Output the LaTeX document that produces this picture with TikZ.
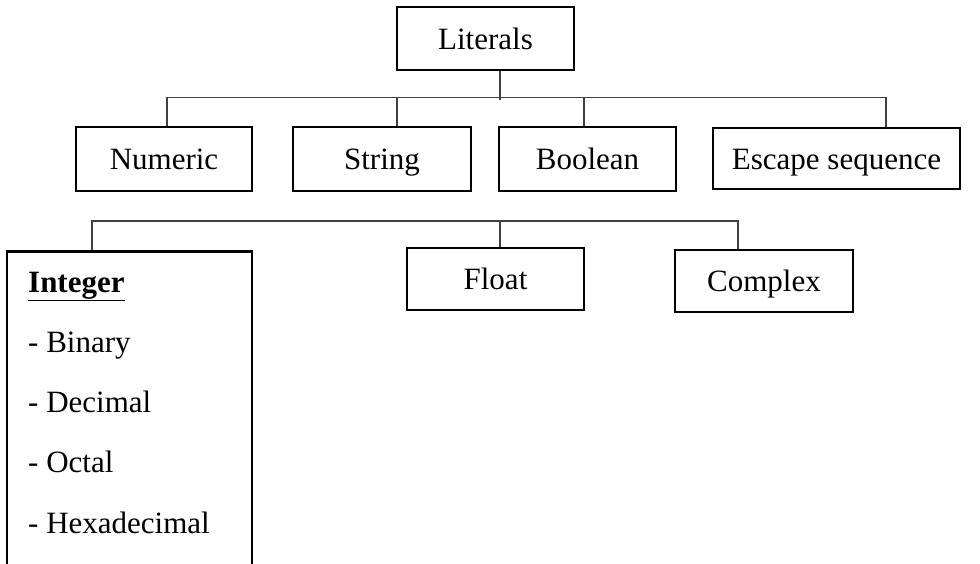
\documentclass[tikz,border=0pt]{standalone}
\usepackage{fontspec}
\setmainfont{Liberation Serif}
\begin{document}
\begin{tikzpicture}[x=1pt,y=-1pt,
  box/.style={draw=black,line width=2.8pt,fill=white,inner sep=0pt,
    text height=24pt,text depth=3pt,
    font=\fontsize{31}{37}\selectfont},
  conn/.style={draw=black!75,line width=1.7pt},
  itemtext/.style={anchor=base west,inner sep=0pt,font=\fontsize{31}{37}\selectfont}]
  \clip (0,0) rectangle (980,563);
  \fill[white] (0,0) rectangle (980,563);

  % first level
  \node[box,minimum width=177pt,minimum height=63pt] (lit) at (485.5,38.5) {Literals};
  \node[box,minimum width=176pt,minimum height=64pt] (num) at (164,159) {Numeric};
  \node[box,minimum width=178pt,minimum height=64pt] (str) at (382,159) {String};
  \node[box,minimum width=177pt,minimum height=64pt] (bool) at (587.5,159) {Boolean};
  \node[box,minimum width=247pt,minimum height=61pt] (esc) at (836.5,158.5) {Escape sequence};

  % second level
  \node[box,minimum width=245pt,minimum height=340pt,anchor=north] (int) at (129.5,250) {};
  \node[box,minimum width=177pt,minimum height=62pt] (flt) at (495.5,279) {Float};
  \node[box,minimum width=178pt,minimum height=62pt] (cpx) at (764,281) {Complex};

  % contents of the integer box
  \node[itemtext] (ihead) at (28,292) {\textbf{\underline{Integer}}};
  \node[itemtext] (ibin) at (28,352) {- Binary};
  \node[itemtext] (idec) at (28,412) {- Decimal};
  \node[itemtext] (ioct) at (28,472) {- Octal};
  \node[itemtext] (ihex) at (28,533) {- Hexadecimal};

  % connectors, first level
  \draw[conn] ([xshift=14.5]lit.south) -- ++(0,29);
  \draw[conn] ([xshift=3]num.north) -- ++(0,-28) -| ([xshift=49.5]esc.north);
  \draw[conn] ([xshift=15]str.north) -- ++(0,-28);
  \draw[conn] ([xshift=-3.5]bool.north) -- ++(0,-28);

  % connectors, second level
  \draw[conn] ([xshift=-37.5]int.north) -- ++(0,-29) -| ([xshift=-26]cpx.north);
  \draw[conn] ([xshift=4.5]flt.north) -- ++(0,-27);
\end{tikzpicture}
\end{document}
